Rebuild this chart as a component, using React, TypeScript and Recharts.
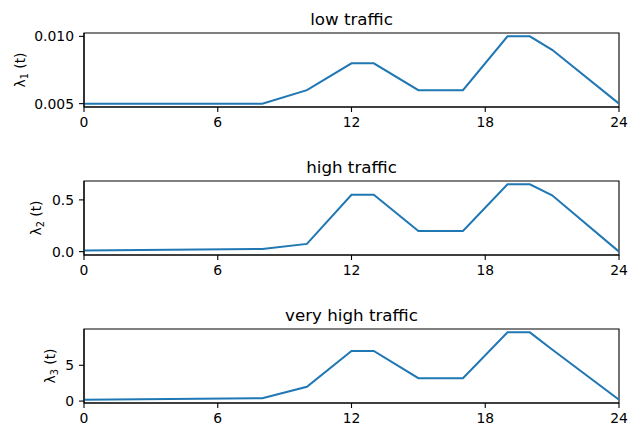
import React from 'react';
import { LineChart, Line, XAxis, YAxis, ReferenceArea } from 'recharts';

const hours = [0, 8, 10, 12, 13, 15, 17, 19, 20, 21, 24];
const lowTraffic = [0.005, 0.005, 0.006, 0.008, 0.008, 0.006, 0.006, 0.01, 0.01, 0.009, 0.005];
const highTraffic = [0.01, 0.025, 0.075, 0.55, 0.55, 0.2, 0.2, 0.65, 0.65, 0.545, 0.0];
const veryHighTraffic = [0.2, 0.4, 2.0, 7.0, 7.0, 3.2, 3.2, 9.6, 9.6, 7.2, 0.2];
const xTicks = [0, 6, 12, 18, 24];
const titles = ['low traffic', 'high traffic', 'very high traffic'];
const subscripts = ['1', '2', '3'];
const yTicksLow = [0.005, 0.01];
const yTicksHigh = [0, 0.5];
const yTicksVeryHigh = [0, 5];

const FONT = 'DejaVu Sans';
const COLOR = '#1f77b4';
const W = 638;
const H = 148;
const TOP = 33;
const PLOT_H = 74;
const LEFT = 84;
const RIGHT_M = 19;

type PanelProps = {
  title: string;
  values: number[];
  sub: string;
  yTicks: number[];
  digits: number;
  labelX: number;
  top: number;
};

const Panel = ({ title, values, sub, yTicks, digits, labelX, top }: PanelProps) => {
  const data = hours.map((h, i) => ({ h, v: values[i] }));
  const mn = Math.min(...values);
  const mx = Math.max(...values);
  const pad = (mx - mn) * 0.05;
  const cy = TOP + PLOT_H / 2;
  const cx = LEFT + (W - RIGHT_M - LEFT) / 2;
  return (
    <div style={{ position: 'absolute', left: 0, top, width: W, height: H }}>
      <LineChart width={W} height={H} data={data} margin={{ top: TOP, right: RIGHT_M, bottom: 0, left: 0 }}>
        <ReferenceArea
          x1={0}
          x2={24}
          y1={mn - pad}
          y2={mx + pad}
          fill="none"
          fillOpacity={0}
          stroke="#000"
          strokeWidth={1.1}
          ifOverflow="visible"
        />
        <XAxis
          dataKey="h"
          type="number"
          domain={[0, 24]}
          ticks={xTicks}
          height={H - TOP - PLOT_H}
          tickSize={5}
          tickMargin={5}
          stroke="#000"
          tick={{ fill: '#000', fontSize: 13.9, fontFamily: FONT }}
          axisLine={{ stroke: '#000', strokeWidth: 1.1 }}
          tickLine={{ stroke: '#000', strokeWidth: 1.1 }}
          allowDataOverflow
          label={() => (
            <text x={cx} y={TOP - 8.3} textAnchor="middle" fontSize={16.7} fontFamily={FONT} fill="#000">
              {title}
            </text>
          )}
        />
        <YAxis
          type="number"
          domain={[mn - pad, mx + pad]}
          ticks={yTicks}
          width={LEFT}
          tickSize={5}
          tickMargin={5}
          allowDataOverflow
          tickFormatter={(v: number) => v.toFixed(digits)}
          tick={{ fill: '#000', fontSize: 13.9, fontFamily: FONT }}
          axisLine={{ stroke: '#000', strokeWidth: 1.1 }}
          tickLine={{ stroke: '#000', strokeWidth: 1.1 }}
          label={() => (
            <text
              transform={`rotate(-90, ${labelX}, ${cy})`}
              x={labelX}
              y={cy}
              textAnchor="middle"
              fontSize={13.9}
              fontFamily={FONT}
              fill="#000"
            >
              λ<tspan fontSize={9.7} dy={3}>{sub}</tspan>
              <tspan dy={-3}>{' (t)'}</tspan>
            </text>
          )}
        />
        <Line
          type="linear"
          dataKey="v"
          stroke={COLOR}
          strokeWidth={2}
          dot={false}
          activeDot={false}
          isAnimationActive={false}
        />
      </LineChart>
    </div>
  );
};

export default function App() {
  return (
    <div style={{ position: 'absolute', left: 0, top: 0, width: W, height: 425, background: '#fff', fontFamily: FONT }}>
      <Panel title={titles[0]} values={lowTraffic} sub={subscripts[0]} yTicks={yTicksLow} digits={3} labelX={25} top={0} />
      <Panel title={titles[1]} values={highTraffic} sub={subscripts[1]} yTicks={yTicksHigh} digits={1} labelX={41} top={148} />
      <Panel title={titles[2]} values={veryHighTraffic} sub={subscripts[2]} yTicks={yTicksVeryHigh} digits={0} labelX={55} top={296} />
    </div>
  );
}
